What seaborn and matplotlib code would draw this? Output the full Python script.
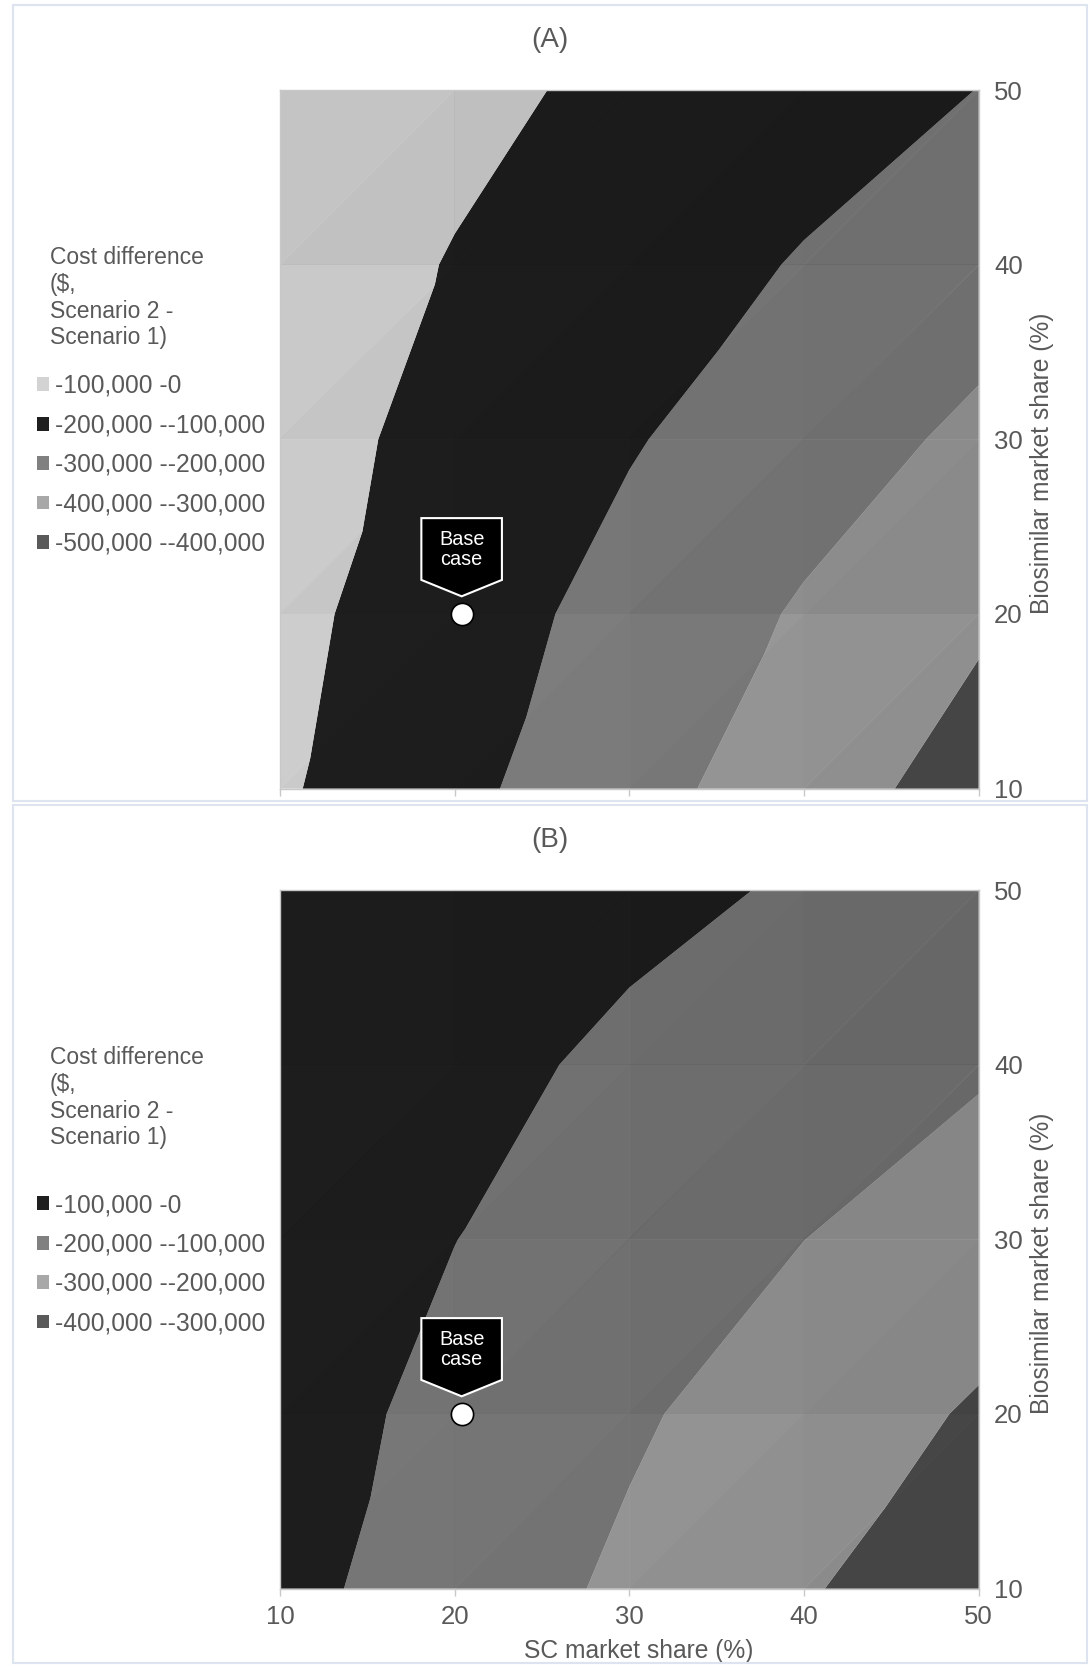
import numpy as np
import matplotlib
matplotlib.use("Agg")
import matplotlib.pyplot as plt
import matplotlib.tri as mtri
import matplotlib.transforms as mtransforms
from matplotlib.collections import PolyCollection
from matplotlib.colors import to_rgb
from matplotlib.patches import Patch, Polygon, Rectangle
import seaborn as sns

# ---- data ---------------------------------------------------------------
sc_share = [10, 20, 30, 40, 50]          # SC market share (%)
bio_share = [10, 20, 30, 40, 50]         # Biosimilar market share (%)

# Cost difference (thousand $, Scenario 2 - Scenario 1); rows = biosimilar share
cost_a = [
    [-88.5, -177.0, -265.5, -354.0, -442.5],
    [-75.0, -155.0, -233.0, -310.0, -385.0],
    [-64.0, -128.0, -193.0, -256.0, -319.0],
    [-53.6, -104.6, -155.6, -206.6, -257.6],
    [-38.0, -78.5, -119.0, -159.5, -201.0],
]
cost_b = [
    [-73.7, -145.5, -217.6, -291.2, -364.7],
    [-61.6, -124.5, -187.4, -250.3, -310.0],
    [-50.2, -99.0, -149.8, -199.5, -249.3],
    [-40.0, -77.5, -115.0, -152.5, -190.0],
    [-27.0, -54.0, -81.0, -108.0, -135.0],
]

levels_a = [-500000, -400000, -300000, -200000, -100000, 0]
levels_b = [-400000, -300000, -200000, -100000, 0]

labels_a = ["-100,000 -0", "-200,000 --100,000", "-300,000 --200,000",
            "-400,000 --300,000", "-500,000 --400,000"]
labels_b = ["-100,000 -0", "-200,000 --100,000", "-300,000 --200,000",
            "-400,000 --300,000"]

base_case = (20.4, 20.0)

# ---- styling ------------------------------------------------------------
sns.set_theme(style="white")
plt.rcParams["font.family"] = ["Liberation Sans", "DejaVu Sans"]
TXT = "#595959"
AX = "#c8c8c8"
FS = 17.7

# band colours, lowest band first (fills) and legend swatches, top entry first
fill_a = ["#4a4a4a", "#989898", "#7a7a7a", "#1d1d1d", "#c4c4c4"]
swatch_a = ["#d3d3d3", "#1f1f1f", "#808080", "#a8a8a8", "#5a5a5a"]
fill_b = ["#4a4a4a", "#959595", "#747474", "#1d1d1d"]
swatch_b = ["#1f1f1f", "#808080", "#a8a8a8", "#5a5a5a"]

W, H = 1091, 1667
fig = plt.figure(figsize=(W / 100, H / 100), dpi=100)
fig.patch.set_facecolor("white")

# triangulated grid (each cell split along its rising diagonal)
X, Y = np.meshgrid(sc_share, bio_share)
nx = len(sc_share)
tris = []
for j in range(len(bio_share) - 1):
    for i in range(nx - 1):
        bl = j * nx + i
        br, tl, tr = bl + 1, bl + nx, bl + nx + 1
        tris += [[bl, br, tr], [bl, tr, tl]]
tris = np.array(tris)
grid = mtri.Triangulation(X.ravel().astype(float), Y.ravel().astype(float), tris)

M_MAX = 1.08


def facet_shading(z):
    """Per-triangle lighting factor of the surface (light from upper right)."""
    px, py = grid.x[tris], grid.y[tris]
    pz = z[tris] / 1000.0
    v1 = np.stack([px[:, 1] - px[:, 0], py[:, 1] - py[:, 0], pz[:, 1] - pz[:, 0]], 1)
    v2 = np.stack([px[:, 2] - px[:, 0], py[:, 2] - py[:, 0], pz[:, 2] - pz[:, 0]], 1)
    n = np.cross(v1, v2)
    gx, gy = -n[:, 0] / n[:, 2], -n[:, 1] / n[:, 2]
    m = 1 + 0.01 * (-gx - 5) - 0.025 * (gy - 2)
    return np.clip(m, 0.85, M_MAX)


def fx(px):
    return px / W


def fy(py):
    return 1 - py / H


def panel(top_px, cost, levels, fills, swatches, labels, tag, show_x,
          legend_title_px, legend_first_px):
    ax = fig.add_axes([fx(280), fy(top_px + 698.6), 698.6 / W, 698.6 / H])
    z = np.asarray(cost, dtype=float).ravel() * 1000
    lit = [tuple(min(1.0, c * M_MAX) for c in to_rgb(f)) for f in fills]
    ax.tricontourf(grid, z, levels=levels, colors=lit, antialiased=True,
                   zorder=1)
    # darken each facet according to its orientation
    m = facet_shading(z)
    shade = np.zeros((len(m), 4))
    shade[:, 3] = 1 - m / M_MAX
    verts = np.stack([grid.x[tris], grid.y[tris]], axis=-1)
    ax.add_collection(PolyCollection(verts, facecolors=shade,
                                     edgecolors="none", linewidths=0,
                                     antialiased=True, zorder=2))
    ax.set_xlim(10, 50)
    ax.set_ylim(10, 50)
    ax.set_xticks(sc_share)
    ax.set_yticks(bio_share)
    ax.yaxis.tick_right()
    ax.yaxis.set_label_position("right")
    for s in ax.spines.values():
        s.set_color(AX)
        s.set_linewidth(1.0)
    ax.tick_params(axis="x", direction="out", length=5, width=1, color=AX,
                   colors=TXT, labelsize=FS + 0.8, pad=7, labelbottom=show_x,
                   bottom=True)
    ax.tick_params(axis="x", color=AX)
    ax.tick_params(axis="y", length=0, colors=TXT, labelsize=FS + 0.8, pad=11,
                   right=True, left=False)
    ax.set_ylabel("Biosimilar market share (%)", color=TXT, fontsize=FS)
    ax.yaxis.set_label_coords(1.073, 0.466)
    if show_x:
        ax.set_xlabel("SC market share (%)", color=TXT, fontsize=FS)
        ax.xaxis.set_label_coords(0.513, -0.072)

    # base case marker with callout
    bx, by = base_case
    ax.plot([bx], [by], "o", ms=16, mfc="white", mec="black", mew=1.2,
            zorder=5)
    trans = fig.dpi_scale_trans + mtransforms.ScaledTranslation(bx, by, ax.transData)
    hw, top, rb, tip = 29 / 72, 69 / 72, 24.5 / 72, 12.7 / 72
    ax.add_patch(Polygon([(-hw, top), (hw, top), (hw, rb), (0, tip), (-hw, rb)],
                         closed=True, fc="black", ec="white", lw=1.5,
                         transform=trans, zorder=6))
    ax.text(0, 46.5 / 72, "Base\ncase", transform=trans, ha="center",
            va="center", color="white", fontsize=14.3, linespacing=1.05,
            zorder=7)

    # panel tag
    fig.text(fx(550), fy(top_px - 50), tag, ha="center", va="center",
             color=TXT, fontsize=20)

    # legend
    fig.text(fx(50), fy(legend_title_px), "Cost difference\n($,\nScenario 2 -\nScenario 1)",
             ha="left", va="top", color=TXT, fontsize=16.5, linespacing=1.2)
    handles = [Patch(fc=c, ec="none") for c in swatches]
    leg = ax.legend(handles, labels, loc="upper left",
                    bbox_to_anchor=(fx(37), fy(legend_first_px)),
                    bbox_transform=fig.transFigure, frameon=False,
                    fontsize=FS, handlelength=0.47, handleheight=0.47,
                    handletextpad=0.26, labelspacing=0.63, borderpad=0,
                    borderaxespad=0)
    for t in leg.get_texts():
        t.set_color(TXT)
    return ax


panel(90, cost_a, levels_a, fill_a, swatch_a, labels_a, "(A)", False, 246.5, 374)
panel(890, cost_b, levels_b, fill_b, swatch_b, labels_b, "(B)", True, 1046.5, 1193)

# chart-area borders
for y0, y1 in [(5, 801), (805, 1663)]:
    fig.add_artist(Rectangle((fx(13), fy(y1)), (1087 - 13) / W, (y1 - y0) / H,
                             transform=fig.transFigure, fill=False,
                             ec="#dde3ef", lw=1.5))

fig.savefig("out.png", dpi=100, facecolor="white")
